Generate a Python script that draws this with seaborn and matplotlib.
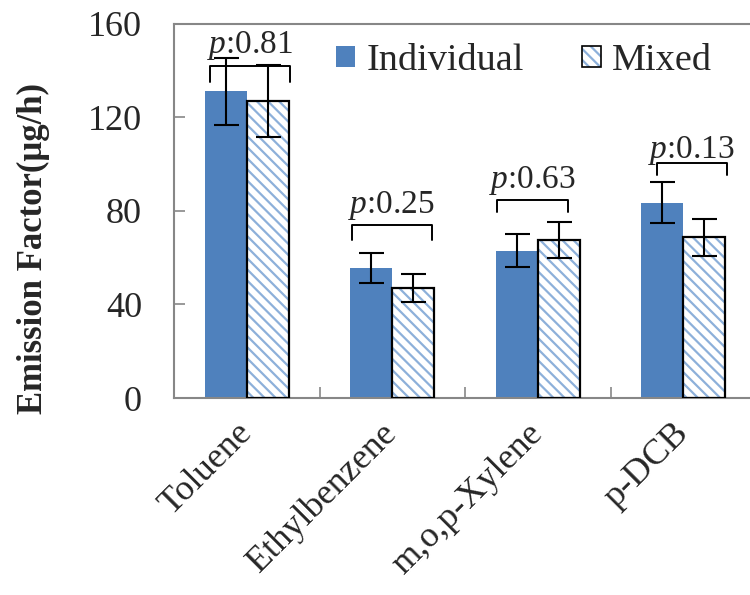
import matplotlib
matplotlib.use("Agg")
import matplotlib.pyplot as plt
from matplotlib.patches import Patch, Rectangle
from matplotlib.legend_handler import HandlerTuple
import seaborn as sns
import pandas as pd

# Emission factors (µg/h) for each compound, tested individually vs. in a mixture
compounds = ["Toluene", "Ethylbenzene", "m,o,p-Xylene", "p-DCB"]
individual = [131.0, 55.5, 63.0, 83.5]
individual_err = [14.3, 6.5, 7.1, 8.9]
mixed = [127.0, 47.0, 67.5, 68.7]
mixed_err = [15.3, 6.0, 7.5, 8.0]
p_values = ["0.81", "0.25", "0.63", "0.13"]
groups = ["Individual", "Mixed"]

# bracket geometry for the significance labels (x offsets relative to category centre, y in data units)
bracket_left = [-0.25, -0.28, -0.28, -0.18]
bracket_right = [0.30, 0.27, 0.21, 0.30]
bracket_top = [142.0, 73.8, 84.5, 100.3]
bracket_leg = [134.8, 67.4, 79.4, 95.1]
label_y = [150.5, 82.3, 93.0, 105.8]

BLUE = "#4F81BD"
HATCH_BLUE = "#8DB0DA"
GRAY = "#878787"

sns.set_style("white")
plt.rcParams["font.family"] = ["Liberation Serif", "DejaVu Serif"]
plt.rcParams["mathtext.fontset"] = "custom"
plt.rcParams["mathtext.rm"] = "Liberation Serif"
plt.rcParams["mathtext.it"] = "Liberation Serif:italic"
plt.rcParams["hatch.linewidth"] = 1.6

HATCH = "\\\\\\"

df = pd.DataFrame({
    "compound": compounds * 2,
    "group": [groups[0]] * 4 + [groups[1]] * 4,
    "value": individual + mixed,
})

fig = plt.figure(figsize=(7.5, 5.95), dpi=100)
ax = fig.add_axes([0.232, 0.331, 0.776, 0.6295])

sns.barplot(data=df, x="compound", y="value", hue="group", order=compounds,
            hue_order=groups, palette=[BLUE, "white"], width=0.58,
            errorbar=None, saturation=1, ax=ax, legend=False)

ind_bars = ax.containers[0]
mix_bars = ax.containers[1]
for p in ind_bars:
    p.set_linewidth(0)
for p in mix_bars:
    p.set_facecolor("white")
    p.set_hatch(HATCH)
    p.set_edgecolor(HATCH_BLUE)
    p.set_linewidth(0)
    ax.add_patch(Rectangle(p.get_xy(), p.get_width(), p.get_height(),
                           fill=False, edgecolor="black", linewidth=1.6, zorder=3))

# error bars
for bars, vals, errs in [(ind_bars, individual, individual_err),
                         (mix_bars, mixed, mixed_err)]:
    xs = [b.get_x() + b.get_width() / 2 for b in bars]
    ax.errorbar(xs, vals, yerr=errs, fmt="none", ecolor="black",
                elinewidth=1.5, capsize=9, capthick=1.5, zorder=4)

# significance brackets with p-values
for i in range(len(compounds)):
    x0, x1 = i + bracket_left[i], i + bracket_right[i]
    ax.plot([x0, x0, x1, x1],
            [bracket_leg[i], bracket_top[i], bracket_top[i], bracket_leg[i]],
            color="black", linewidth=1.4, solid_joinstyle="round", zorder=5)
    ax.text((x0 + x1) / 2, label_y[i], "$p$:" + p_values[i],
            ha="center", va="center", fontsize=24)

ax.set_ylim(0, 160)
ax.set_xlim(-0.5, 3.5)
ax.set_yticks([0, 40, 80, 120, 160])
ax.tick_params(axis="y", direction="in", length=8, width=1.2, color=GRAY,
               labelsize=26, pad=23, left=True)
ax.set_xticks(range(len(compounds)))
ax.set_xticklabels(compounds, rotation=45, ha="right", va="center",
                   rotation_mode="anchor", fontsize=26)
ax.tick_params(axis="x", which="major", length=0, pad=22)
ax.set_xticks([0.5, 1.5, 2.5], minor=True)
ax.tick_params(axis="x", which="minor", direction="in", length=8, width=1.2,
               color=GRAY, bottom=True)

for side in ["left", "bottom", "top"]:
    ax.spines[side].set_color(GRAY)
    ax.spines[side].set_linewidth(1.5)
ax.spines["right"].set_visible(False)

ax.set_xlabel("")
ax.set_ylabel("Emission Factor(μg/h)", fontsize=25, fontweight="bold")
ax.yaxis.set_label_coords(-0.213, 0.40)

handles = [
    Patch(facecolor=BLUE, edgecolor="none"),
    (Patch(facecolor="white", edgecolor=HATCH_BLUE, hatch=HATCH, linewidth=0),
     Patch(facecolor="none", edgecolor="black", linewidth=1.2)),
]
ax.legend(handles, groups, loc="upper left", bbox_to_anchor=(0.233, 1.018), ncol=2,
          frameon=False, fontsize=27.5, handlelength=0.5, handleheight=0.5,
          handletextpad=0.3, columnspacing=1.5, borderaxespad=0.3,
          handler_map={tuple: HandlerTuple(ndivide=1, pad=0)})

fig.savefig("out.png", dpi=100)
